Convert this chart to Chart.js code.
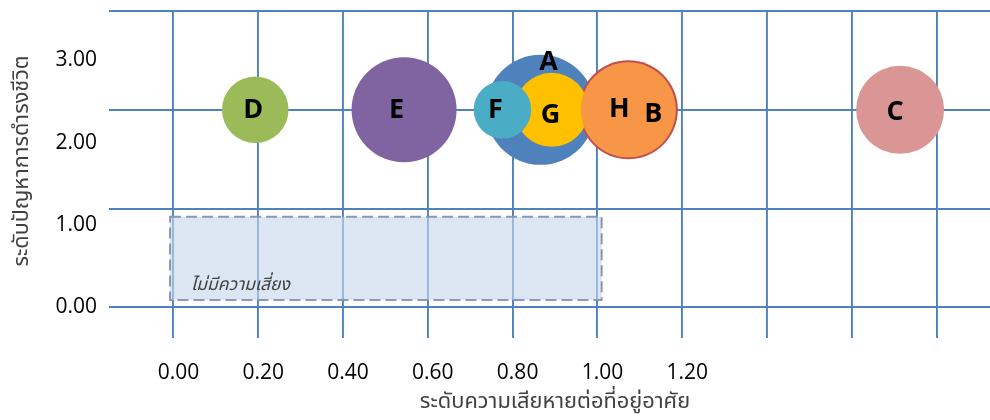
<!DOCTYPE html>
<html>
<head>
<meta charset="utf-8">
<script src="https://cdn.jsdelivr.net/npm/chart.js@4.4.1/dist/chart.umd.min.js"></script>
<style>
  html, body { margin: 0; padding: 0; background: #ffffff; }
  #wrap { width: 990px; height: 420px; position: relative; }
</style>
</head>
<body>
<div id="wrap"><canvas id="chart"></canvas></div>
<script>
// Risk groups and their scores
const categories      = ['A', 'B', 'C', 'D', 'E', 'F', 'G', 'H'];
const damageLevel     = [0.866, 1.073, 1.714, 0.193, 0.544, 0.776, 0.892, 1.073];
const livelihoodLevel = [2.4, 2.4, 2.4, 2.4, 2.4, 2.4, 2.4, 2.4];
const bubbleRadius    = [55, 49.5, 44, 33.3, 52.5, 28.8, 37, 47.5];

// Axis ticks
const xGridValues = [0, 0.2, 0.4, 0.6, 0.8, 1.0, 1.2, 1.4, 1.6, 1.8];
const xTickLabels = ['0.00', '0.20', '0.40', '0.60', '0.80', '1.00', '1.20'];
const yGridValues = [0, 1.2, 2.4, 3.6];
const yTickLabels = ['0.00', '1.00', '2.00', '3.00'];

// "No risk" zone (x range, y range)
const riskFreeX = [-0.008, 1.01];
const riskFreeY = [0.09, 1.1];

const xTitle = 'ระดับความเสียหายต่อที่อยู่อาศัย';
const yTitle = 'ระดับปัญหาการดำรงชีวิต';
const zoneText = 'ไม่มีความเสี่ยง';

const colors = {
  A: '#4F81BD', B: '#C0504D', C: '#D99694', D: '#9BBB59',
  E: '#8064A2', F: '#4BACC6', G: '#FFC000', H: '#F79646'
};
// lower number = drawn later (on top)
const stackOrder = { H: 0, F: 1, G: 2, B: 3, A: 4, C: 5, D: 5, E: 5 };
const labelShift = {
  A: [8, -48], B: [25, 4], C: [-5, 2], D: [-2, 0],
  E: [-7.5, 0], F: [-7, 0], G: [-1, 5], H: [-9, -1]
};

const GRID = '#4F81BD';
const THAI = "'Noto Sans Thai', 'Noto Sans', sans-serif";
const near = (a, b) => Math.abs(a - b) < 1e-6;

const datasets = categories.map((c, i) => ({
  label: c,
  data: [{ x: damageLevel[i], y: livelihoodLevel[i], r: bubbleRadius[i] }],
  backgroundColor: colors[c],
  borderWidth: 0,
  hoverBorderWidth: 0,
  order: stackOrder[c]
}));

const yLabelValues = yTickLabels.map(parseFloat);
const xLabelValues = xTickLabels.map(parseFloat);

const zonePlugin = {
  id: 'zone',
  beforeDatasetsDraw(chart) {
    const { ctx, scales: { x, y } } = chart;
    const l = x.getPixelForValue(riskFreeX[0]);
    const r = x.getPixelForValue(riskFreeX[1]);
    const t = y.getPixelForValue(riskFreeY[1]);
    const b = y.getPixelForValue(riskFreeY[0]);
    ctx.save();
    ctx.fillStyle = 'rgba(199,215,236,0.62)';
    ctx.fillRect(l, t, r - l, b - t);
    ctx.setLineDash([11, 5]);
    ctx.lineWidth = 2;
    ctx.strokeStyle = 'rgba(128,148,182,0.95)';
    ctx.strokeRect(l, t, r - l, b - t);
    ctx.setLineDash([]);
    ctx.fillStyle = '#404040';
    ctx.font = "italic 17.5px " + THAI;
    ctx.textAlign = 'left';
    ctx.textBaseline = 'alphabetic';
    ctx.fillText(zoneText, l + 21, b - 10);
    ctx.restore();
  }
};

const labelPlugin = {
  id: 'bubbleLabels',
  afterDatasetsDraw(chart) {
    const { ctx } = chart;
    ctx.save();
    ctx.fillStyle = '#000000';
    ctx.font = "bold 27px 'Open Sans', sans-serif";
    ctx.textAlign = 'center';
    ctx.textBaseline = 'middle';
    chart.data.datasets.forEach((ds, i) => {
      const el = chart.getDatasetMeta(i).data[0];
      const s = labelShift[ds.label];
      ctx.fillText(ds.label, el.x + s[0], el.y + s[1]);
    });
    ctx.restore();
  }
};

// axis titles
const titlePlugin = {
  id: 'axisTitles',
  afterDraw(chart) {
    const { ctx } = chart;
    ctx.save();
    ctx.fillStyle = '#404040';
    ctx.textAlign = 'center';
    ctx.textBaseline = 'middle';
    ctx.font = "21.8px " + THAI;
    ctx.fillText(xTitle, 555, 404);
    ctx.translate(24, 161);
    ctx.rotate(-Math.PI / 2);
    ctx.font = "21.6px " + THAI;
    ctx.fillText(yTitle, 0, 0);
    ctx.restore();
  }
};

new Chart(document.getElementById('chart'), {
  type: 'bubble',
  data: { datasets },
  options: {
    responsive: true,
    maintainAspectRatio: false,
    animation: false,
    events: [],
    layout: { autoPadding: false, padding: { top: 11, right: 0, left: 0, bottom: 0 } },
    plugins: { legend: { display: false }, tooltip: { enabled: false } },
    scales: {
      x: {
        type: 'linear',
        min: -0.152,
        max: 1.926,
        afterBuildTicks: s => { s.ticks = xGridValues.map(v => ({ value: v })); },
        afterFit: s => { s.height = 82; s.paddingLeft = 0; s.paddingRight = 0; },
        border: { display: false },
        grid: { color: GRID, lineWidth: 1.9, drawTicks: false },
        ticks: {
          padding: 22,
          labelOffset: 5,
          color: '#000000',
          font: { family: "'Open Sans', sans-serif", size: 21 },
          callback: v => {
            const k = xLabelValues.findIndex(t => near(t, v));
            return k >= 0 ? xTickLabels[k] : '';
          }
        }
      },
      y: {
        type: 'linear',
        min: -0.371,
        max: 3.6,
        afterBuildTicks: s => {
          const vals = [...new Set([...yGridValues, ...yLabelValues])].sort((a, b) => a - b);
          s.ticks = vals.map(v => ({ value: v }));
        },
        afterFit: s => { s.width = 109; s.paddingTop = 0; s.paddingBottom = 0; },
        border: { display: false },
        grid: {
          drawTicks: false,
          lineWidth: 1.9,
          color: c => (c.tick && yGridValues.some(g => near(g, c.tick.value))) ? GRID : 'rgba(0,0,0,0)'
        },
        ticks: {
          padding: 12,
          color: '#000000',
          font: { family: "'Open Sans', sans-serif", size: 21 },
          callback: v => {
            const k = yLabelValues.findIndex(t => near(t, v));
            return k >= 0 ? yTickLabels[k] : '';
          }
        }
      }
    }
  },
  plugins: [zonePlugin, labelPlugin, titlePlugin]
});
</script>
</body>
</html>
